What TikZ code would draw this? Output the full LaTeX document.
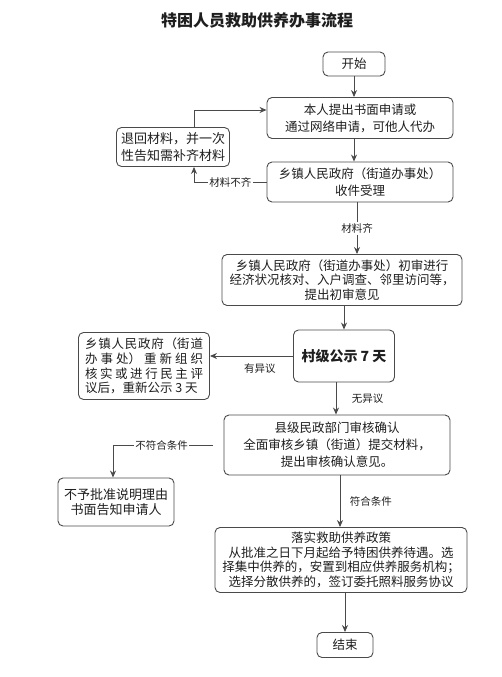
\documentclass[tikz,border=0pt]{standalone}
\usepackage{fontspec}
\setmainfont{Noto Sans CJK SC}
\usepackage{tikz}
\usetikzlibrary{arrows.meta}
\definecolor{linegray}{HTML}{4A4A4A}
\definecolor{textblack}{HTML}{1E1E1E}
\XeTeXlinebreaklocale "zh"
\XeTeXlinebreakskip=0pt plus 1pt

\begin{document}
\begin{tikzpicture}[x=1pt, y=-1pt, >={Stealth[length=7pt, width=6pt]},
    box/.style={draw=linegray, rounded corners=5pt, line width=0.9pt, align=center,
        inner sep=2pt, text=textblack, font=\fontsize{12.5}{15}\selectfont},
    tag/.style={inner sep=1.5pt, text=textblack, font=\fontsize{10.5}{12}\selectfont},
    flow/.style={->, draw=linegray, line width=0.9pt}]
        \useasboundingbox (0,0) rectangle (501,677);
        
        % 标题
        \node[text=textblack, font=\bfseries\fontsize{16}{18}\selectfont] (title) at (257,20) {特困人员救助供养办事流程};
        
        % 主流程各框
        \node[box, minimum width=62, minimum height=24] (start) at (354,64) {开始};
        \node[box, minimum width=186, minimum height=41, font=\fontsize{12.5}{17}\selectfont] (apply) at (360,118)
            {本人提出书面申请或\\通过网络申请，可他人代办};
        \node[box, minimum width=186, minimum height=40, font=\fontsize{12.5}{17}\selectfont] (accept) at (360,182)
            {乡镇人民政府（街道办事处）\\收件受理};
        \node[box, minimum width=240, minimum height=51, font=\fontsize{12.5}{14.5}\selectfont] (review) at (342,280)
            {乡镇人民政府（街道办事处）初审进行\\经济状况核对、入户调查、邻里访问等，\\提出初审意见};
        \node[box, minimum width=101, minimum height=52, font=\bfseries\fontsize{14}{16}\selectfont] (publicize) at (344,356)
            {村级公示 7 天};
        \node[box, minimum width=226, minimum height=60, font=\fontsize{12.5}{17}\selectfont] (confirm) at (337,445)
            {县级民政部门审核确认\\全面审核乡镇（街道）提交材料，\\提出审核确认意见。};
        \node[box, minimum width=252, minimum height=65, font=\fontsize{12.5}{14.5}\selectfont] (implement) at (341,560)
            {落实救助供养政策\\从批准之日下月起给予特困供养待遇。选\\择集中供养的，安置到相应供养服务机构；\\选择分散供养的，签订委托照料服务协议};
        \node[box, minimum width=56, minimum height=25] (finish) at (345,645) {结束};
        
        % 左侧分支各框
        \node[box, minimum width=113, minimum height=39, font=\fontsize{13}{17}\selectfont] (retreat) at (173,147)
            {退回材料，并一次\\性告知需补齐材料};
        \node[box, minimum width=131, minimum height=67, text width=118, align=justify, font=\fontsize{12.5}{14.7}\selectfont] (recheck) at (144,366)
            {乡镇人民政府（街道\linebreak 办事处）重新组织\linebreak 核实或进行民主评\linebreak 议后，重新公示 3 天};
        \node[box, minimum width=116, minimum height=48, font=\fontsize{13}{15}\selectfont] (reject) at (116,502)
            {不予批准说明理由\\书面告知申请人};
        
        % 主流程箭头
        \draw[flow] (start.south) -- (start.south |- apply.north);
        \draw[flow] (start.south |- apply.south) -- (start.south |- accept.north);
        \draw[flow] ([xshift=-3pt]accept.south) -- ([xshift=-3pt]accept.south |- review.north)
            node[tag, midway, fill=white] {材料齐};
        \draw[flow] (publicize.north |- review.south) -- (publicize.north);
        \draw[flow] ([xshift=-8pt]publicize.south) -- ([xshift=-8pt]publicize.south |- confirm.north)
            node[tag, midway, right=14pt] {无异议};
        \draw[flow] ([xshift=3pt]confirm.south) -- ([xshift=3pt]confirm.south |- implement.north)
            node[tag, midway, right=8pt] {符合条件};
        \draw[flow] ([xshift=4pt]implement.south) -- ([xshift=4pt]implement.south |- finish.north);
        
        % 分支箭头
        \draw[flow] (accept.west) -| node[tag, pos=0.25, fill=white] {材料不齐} ([xshift=21pt]retreat.south);
        \draw[flow] ([xshift=21pt]retreat.north) |- ([yshift=8pt]apply.west);
        \draw[flow] (publicize.west) -- (publicize.west -| recheck.east)
            node[tag, pos=0.4, below=6pt] {有异议};
        \draw[flow, shorten <=11pt] (confirm.west) -| node[tag, pos=0.28, fill=white] {不符合条件} ([xshift=-3pt]reject.north);
    \end{tikzpicture}
\end{document}
